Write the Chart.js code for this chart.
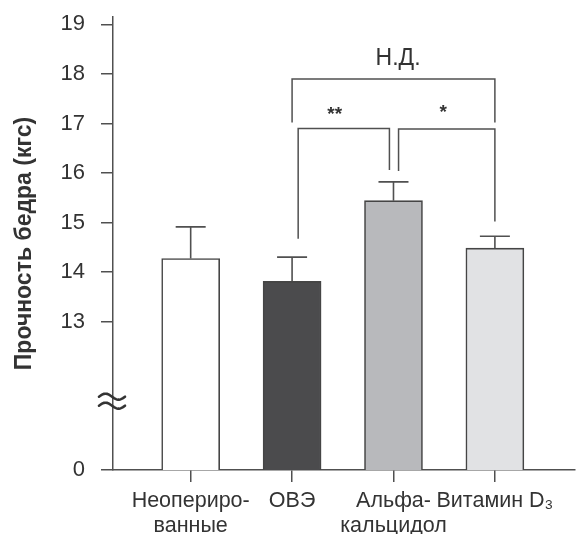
<!DOCTYPE html>
<html>
<head>
<meta charset="utf-8">
<script src="https://cdn.jsdelivr.net/npm/chart.js@4/dist/chart.umd.min.js"></script>
<style>
  html, body { margin: 0; padding: 0; background: #fff; }
  canvas { display: block; }
</style>
</head>
<body>
<canvas id="chart" width="579" height="534"></canvas>
<script>
// Groups and femur strength (mean, SEM), kgf
const groups = [['Неопериро-', 'ванные'], 'ОВЭ', ['Альфа-', 'кальцидол'], 'Витамин D₃'];
const strength = [14.27, 13.81, 15.44, 14.48];
const sem = [0.64, 0.49, 0.38, 0.24];

// Broken axis: the origin sits at 10 and is labelled 0
const yTicks = [10, 13, 14, 15, 16, 17, 18, 19];
const yTickLabels = ['0', '13', '14', '15', '16', '17', '18', '19'];

// Pairwise comparisons
const comparisons = [
  { from: 1.0,  to: 3.0,  top: 17.9,  endFrom: 17.02, endTo: 17.02, label: 'Н.Д.', labelX: 2.045, labelY: 18.3, bold: false },
  { from: 1.06, to: 1.96, top: 16.9,  endFrom: 14.67, endTo: 16.06, label: '**',   labelX: 1.42,  labelY: 17.18, bold: true },
  { from: 2.05, to: 3.0,  top: 16.89, endFrom: 16.04, endTo: 15.02, label: '*',    labelX: 2.49,  labelY: 17.22, bold: true }
];

const barFills = ['#ffffff', '#4b4b4d', '#b8b9bc', '#e1e2e4'];
const FONT = '"Liberation Sans", Arial, Helvetica, sans-serif';
const INK = '#333333';
const LINE = '#505050';

const overlay = {
  id: 'overlay',
  afterDatasetsDraw(chart) {
    const { ctx, scales: { x, y } } = chart;
    ctx.save();
    // error bars (upper half only)
    ctx.strokeStyle = LINE;
    ctx.lineWidth = 1.6;
    strength.forEach((m, i) => {
      const px = x.getPixelForValue(i);
      const y0 = y.getPixelForValue(m);
      const y1 = y.getPixelForValue(m + sem[i]);
      ctx.beginPath();
      ctx.moveTo(px, y0);
      ctx.lineTo(px, y1);
      ctx.moveTo(px - 15, y1);
      ctx.lineTo(px + 15, y1);
      ctx.stroke();
    });

    // significance brackets
    ctx.lineWidth = 1.5;
    comparisons.forEach(c => {
      const xa = x.getPixelForValue(c.from), xb = x.getPixelForValue(c.to);
      const yt = y.getPixelForValue(c.top);
      ctx.beginPath();
      ctx.moveTo(xa, y.getPixelForValue(c.endFrom));
      ctx.lineTo(xa, yt);
      ctx.lineTo(xb, yt);
      ctx.lineTo(xb, y.getPixelForValue(c.endTo));
      ctx.stroke();
      ctx.fillStyle = INK;
      ctx.textAlign = 'center';
      ctx.textBaseline = 'middle';
      ctx.font = (c.bold ? 'bold 19px ' : '23px ') + FONT;
      ctx.fillText(c.label, x.getPixelForValue(c.labelX), y.getPixelForValue(c.labelY));
    });
    ctx.restore();
  },
  afterDraw(chart) {
    // axis break mark between 0 and 13
    const { ctx, chartArea, scales: { y } } = chart;
    const cx = chartArea.left - 1;
    const cy = y.getPixelForValue(11.39);
    ctx.save();
    ctx.strokeStyle = '#333';
    ctx.lineWidth = 2.6;
    ctx.lineCap = 'round';
    [-4.5, 4.5].forEach(off => {
      ctx.beginPath();
      for (let t = 0; t <= 26; t++) {
        const px = cx - 13 + t;
        const py = cy + off - 3 * Math.sin(2 * Math.PI * t / 26);
        if (t === 0) ctx.moveTo(px, py); else ctx.lineTo(px, py);
      }
      ctx.stroke();
    });
    ctx.restore();
  }
};

new Chart(document.getElementById('chart'), {
  type: 'bar',
  data: {
    datasets: [{
      data: strength.map((v, i) => ({ x: i, y: v })),
      backgroundColor: barFills,
      borderColor: '#454545',
      borderWidth: 1.6,
      barThickness: 58
    }]
  },
  options: {
    responsive: false,
    animation: false,
    devicePixelRatio: 1,
    layout: { padding: { top: 17, right: 4, left: 0, bottom: 0 } },
    plugins: { legend: { display: false }, tooltip: { enabled: false } },
    scales: {
      x: {
        type: 'linear',
        offset: false,
        min: -0.766,
        max: 3.79,
        afterBuildTicks: s => { s.ticks = groups.map((_, i) => ({ value: i })); },
        afterFit: s => { s.height = 64; s.paddingLeft = 0; s.paddingRight = 0; },
        grid: { offset: false, drawOnChartArea: false, drawTicks: true, tickLength: 12, color: LINE, lineWidth: 1.5 },
        border: { display: true, color: LINE, width: 1.5 },
        ticks: {
          autoSkip: false, maxRotation: 0, minRotation: 0, padding: 7, color: INK,
          font: { family: FONT, size: 21.5, lineHeight: 1.15 },
          callback: v => groups[v]
        }
      },
      y: {
        min: 10,
        max: 19.15,
        afterBuildTicks: s => { s.ticks = yTicks.map(v => ({ value: v })); },
        afterFit: s => { s.width = 113; s.paddingTop = 0; s.paddingBottom = 0; },
        grid: { drawOnChartArea: false, drawTicks: true, tickLength: 12, color: LINE, lineWidth: 1.5 },
        border: { display: true, color: LINE, width: 1.5 },
        ticks: {
          padding: 16, color: INK,
          font: { family: FONT, size: 22 },
          callback: v => yTickLabels[yTicks.indexOf(v)]
        },
        title: {
          display: true,
          text: 'Прочность бедра (кгс)',
          color: INK,
          font: { family: FONT, size: 23, weight: 'bold' },
          padding: { top: 11, bottom: 0 }
        }
      }
    }
  },
  plugins: [overlay]
});
</script>
</body>
</html>
